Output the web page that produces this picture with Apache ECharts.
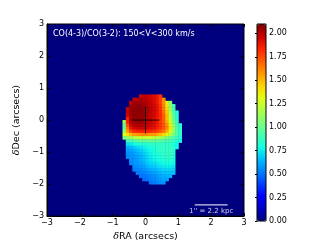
<!DOCTYPE html>
<html><head><meta charset="utf-8">
<script src="https://cdn.jsdelivr.net/npm/echarts@6/dist/echarts.min.js"></script>
<style>html,body{margin:0;padding:0;background:#fff}#c{width:327px;height:247px}</style>
</head><body><div id="c"></div>
<script>
// Cell centres (arcsec)
const cellX = [-0.65,-0.55,-0.45,-0.35,-0.25,-0.15,-0.05,0.05,0.15,0.25,0.35,0.45,0.55,0.65,0.75,0.85,0.95,1.05];
const rowY = [0.75,0.65,0.55,0.45,0.35,0.25,0.15,0.05,-0.05,-0.15,-0.25,-0.35,-0.45,-0.55,-0.65,-0.75,-0.85,-0.95,-1.05,-1.15,-1.25,-1.35,-1.45,-1.55,-1.65,-1.75,-1.85,-1.95];
// index into cellX of the first cell of each row
const rowStart = [5,3,2,2,1,1,1,1,0,0,0,0,0,0,1,1,1,1,1,1,2,2,3,3,4,5,6,8];
// line ratio values per row
const rowValues = [
 [1.95,1.97,1.97,1.95,1.92,1.88,1.8],
 [1.97,2.0,2.02,2.0,1.98,1.95,1.92,1.88,1.78,1.6],
 [1.98,2.03,2.05,2.04,2.02,2.0,1.97,1.93,1.88,1.78,1.6,1.35,1.1],
 [2.02,2.05,2.06,2.06,2.04,2.01,1.98,1.94,1.9,1.8,1.62,1.38,1.12,0.9],
 [1.95,2.04,2.06,2.07,2.07,2.05,2.02,1.98,1.95,1.9,1.8,1.63,1.4,1.15,0.92],
 [1.97,2.05,2.07,2.07,2.07,2.05,2.02,1.98,1.95,1.9,1.82,1.66,1.45,1.18,0.95,0.82],
 [1.95,2.04,2.07,2.07,2.07,2.05,2.02,1.98,1.95,1.9,1.83,1.7,1.5,1.22,0.98,0.82],
 [1.85,2.02,2.06,2.07,2.06,2.04,2.0,1.97,1.93,1.88,1.82,1.7,1.5,1.25,1.0,0.85],
 [1.15,1.85,2.0,2.04,2.05,2.05,2.03,2.0,1.97,1.93,1.88,1.8,1.7,1.52,1.28,1.05,0.88],
 [1.0,1.75,1.95,2.0,2.02,2.02,2.0,1.98,1.95,1.92,1.87,1.8,1.72,1.58,1.35,1.12,0.93,0.82],
 [1.0,1.65,1.88,1.95,1.97,1.97,1.96,1.95,1.92,1.9,1.85,1.8,1.72,1.6,1.4,1.15,0.95,0.85],
 [1.1,1.55,1.75,1.82,1.85,1.86,1.86,1.85,1.83,1.8,1.77,1.72,1.65,1.52,1.33,1.12,0.95,0.85],
 [1.3,1.4,1.5,1.55,1.58,1.6,1.6,1.6,1.58,1.56,1.53,1.5,1.43,1.33,1.2,1.05,0.92,0.85],
 [1.05,1.1,1.15,1.2,1.22,1.24,1.25,1.25,1.24,1.22,1.2,1.17,1.12,1.07,1.0,0.93,0.87,0.82],
 [0.9,0.92,0.95,0.97,0.99,1.0,1.0,1.0,0.99,0.98,0.96,0.94,0.92,0.9,0.87,0.84,0.8],
 [0.72,0.75,0.78,0.8,0.82,0.83,0.84,0.85,0.86,0.86,0.86,0.86,0.86,0.85,0.82,0.78],
 [0.62,0.65,0.68,0.7,0.73,0.76,0.78,0.8,0.82,0.84,0.85,0.86,0.87,0.86,0.83,0.78],
 [0.58,0.6,0.62,0.65,0.68,0.72,0.75,0.78,0.8,0.83,0.85,0.86,0.87,0.87,0.84],
 [0.56,0.58,0.6,0.62,0.65,0.69,0.73,0.76,0.79,0.82,0.84,0.86,0.87,0.87,0.84],
 [0.55,0.57,0.58,0.6,0.63,0.67,0.71,0.75,0.78,0.8,0.83,0.85,0.86,0.86,0.82],
 [0.56,0.57,0.59,0.62,0.66,0.7,0.73,0.76,0.78,0.8,0.82,0.83,0.83,0.8],
 [0.55,0.56,0.58,0.6,0.63,0.67,0.7,0.72,0.74,0.76,0.78,0.79,0.79,0.77],
 [0.55,0.56,0.58,0.6,0.63,0.66,0.68,0.7,0.72,0.74,0.75,0.75,0.73],
 [0.53,0.54,0.55,0.57,0.59,0.62,0.64,0.66,0.68,0.7,0.71,0.71,0.7],
 [0.52,0.53,0.54,0.56,0.58,0.6,0.62,0.64,0.66,0.67,0.67,0.66],
 [0.5,0.51,0.52,0.54,0.56,0.58,0.6,0.62,0.63,0.63],
 [0.49,0.5,0.52,0.54,0.56,0.58,0.6,0.6],
 [0.5,0.52,0.54,0.56,0.57]
];
const axisTicks = [-3,-2,-1,0,1,2,3];
const colorbarTicks = [0,0.25,0.5,0.75,1.0,1.25,1.5,1.75,2.0];
const colorMin = 0, colorMax = 2.1;
const crossH = [[-0.42,0],[0.42,0]];
const crossV = [[0,-0.42],[0,0.42]];
const scaleBar = [[1.5,-2.65],[2.5,-2.65]];
const scaleLabelPos = [[2.0,-2.84]];
const titleText = 'CO(4-3)/CO(3-2): 150<V<300 km/s';
const scaleText = "1'' = 2.2 kpc";

const jet = ['#000080','#0000c8','#0000ff','#0040ff','#0080ff','#00bfff','#14ffe3','#48ffaf','#7cff7a','#afff48','#e2ff14','#ffd200','#ff9700','#ff5c00','#ff2100','#c80000','#800000'];

const cells = [];
rowValues.forEach((row, i) => {
  row.forEach((v, j) => { cells.push([cellX[rowStart[i] + j], rowY[i], v]); });
});
const half = 0.05;
const minus = v => String(v).replace('-', '\u2212');
const font = 'DejaVu Sans';
const tickStyle = {inside: true, length: 3, lineStyle: {color: '#000'}};
const nameStyle = {fontSize: 9.5, color: '#000', fontFamily: font, rich: {d: {fontFamily: 'DejaVu Serif', fontStyle: 'italic', fontSize: 9.5}}};

const chart = echarts.init(document.getElementById('c'), null, {renderer: 'canvas'});
chart.setOption({
  animation: false,
  backgroundColor: '#fff',
  title: {text: titleText, left: 53, top: 30, padding: 0,
    textStyle: {color: '#fff', fontSize: 8, fontWeight: 'normal', fontFamily: font}},
  grid: [
    {left: 47, top: 24, width: 197, height: 198, show: true, backgroundColor: '#00007f', borderColor: '#000', borderWidth: 1},
    {left: 257, top: 24, width: 9, height: 197, show: true, backgroundColor: 'transparent', borderColor: '#000', borderWidth: 1, z: 10}
  ],
  visualMap: {
    type: 'continuous', min: colorMin, max: colorMax, dimension: 2, seriesIndex: 0,
    show: true, calculable: false, hoverLink: false, orient: 'vertical',
    left: 257, top: 24, itemWidth: 9, itemHeight: 197, padding: 0, text: null,
    inRange: {color: jet}
  },
  xAxis: [
    {type: 'value', gridIndex: 0, min: -3, max: 3, interval: 1,
     name: '{d|\u03b4}RA (arcsecs)', nameLocation: 'middle', nameGap: 13, nameTextStyle: nameStyle,
     axisLine: {onZero: false, lineStyle: {color: '#000'}}, axisTick: tickStyle,
     axisLabel: {fontSize: 8, color: '#000', fontFamily: font, margin: 3, formatter: minus}, splitLine: {show: false}},
    {type: 'value', gridIndex: 0, position: 'top', min: -3, max: 3, interval: 1,
     axisLine: {show: false, onZero: false}, axisTick: tickStyle, axisLabel: {show: false}, splitLine: {show: false}},
    {type: 'value', gridIndex: 1, min: 0, max: 1, show: false}
  ],
  yAxis: [
    {type: 'value', gridIndex: 0, min: -3, max: 3, interval: 1,
     name: '{d|\u03b4}Dec (arcsecs)', nameLocation: 'middle', nameGap: 19, nameRotate: 90, nameTextStyle: nameStyle,
     axisLine: {onZero: false, lineStyle: {color: '#000'}}, axisTick: tickStyle,
     axisLabel: {fontSize: 8, color: '#000', fontFamily: font, margin: 3, formatter: minus}, splitLine: {show: false}},
    {type: 'value', gridIndex: 0, position: 'right', min: -3, max: 3, interval: 1,
     axisLine: {show: false, onZero: false}, axisTick: tickStyle, axisLabel: {show: false}, splitLine: {show: false}},
    {type: 'value', gridIndex: 1, position: 'right', min: colorMin, max: colorMax,
     axisLine: {show: false}, splitLine: {show: false},
     axisTick: {show: true, inside: true, length: 2, customValues: colorbarTicks, lineStyle: {color: '#000'}},
     axisLabel: {fontSize: 8, color: '#000', fontFamily: font, margin: 3, customValues: colorbarTicks, formatter: v => v.toFixed(2)}}
  ],
  series: [
    {type: 'custom', xAxisIndex: 0, yAxisIndex: 0, data: cells, clip: true,
     renderItem: (params, api) => {
       const p0 = api.coord([api.value(0) - half, api.value(1) + half]);
       const p1 = api.coord([api.value(0) + half, api.value(1) - half]);
       return {type: 'rect', shape: {x: p0[0], y: p0[1], width: p1[0] - p0[0] + 0.4, height: p1[1] - p0[1] + 0.4},
               style: {fill: api.visual('color')}};
     }},
    {type: 'line', xAxisIndex: 0, yAxisIndex: 0, data: crossH, symbol: 'none', lineStyle: {color: '#000', width: 0.8}, silent: true},
    {type: 'line', xAxisIndex: 0, yAxisIndex: 0, data: crossV, symbol: 'none', lineStyle: {color: '#000', width: 0.8}, silent: true},
    {type: 'line', xAxisIndex: 0, yAxisIndex: 0, data: scaleBar, symbol: 'none', lineStyle: {color: '#fff', width: 1}, silent: true},
    {type: 'scatter', xAxisIndex: 0, yAxisIndex: 0, data: scaleLabelPos, symbolSize: 0, silent: true,
     label: {show: true, position: 'inside', formatter: scaleText, color: '#fff', fontSize: 7, fontFamily: font}}
  ]
});
</script></body></html>
